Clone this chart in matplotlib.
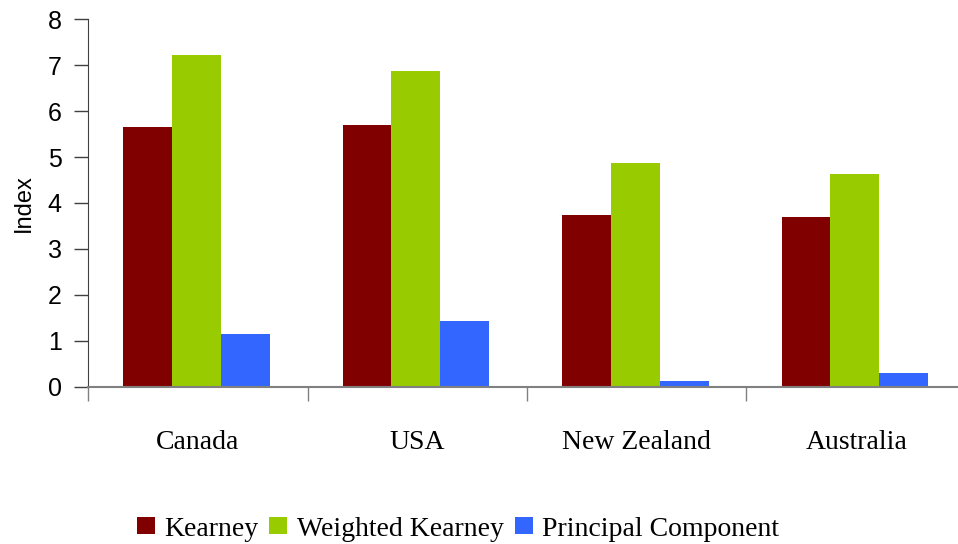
import matplotlib
matplotlib.use("Agg")
import matplotlib.pyplot as plt
import numpy as np
from matplotlib.patches import Patch

categories = ["Canada", "USA", "New Zealand", "Australia"]
series_names = ["Kearney", "Weighted Kearney", "Principal Component"]
kearney = [5.66, 5.70, 3.74, 3.70]
weighted_kearney = [7.22, 6.88, 4.88, 4.63]
principal_component = [1.15, 1.43, 0.12, 0.30]
colors = ["#800000", "#99CC00", "#3366FF"]
yticks = [0, 1, 2, 3, 4, 5, 6, 7, 8]

fig = plt.figure(figsize=(9.58, 5.44), dpi=100)
W, H = 958, 544
left_px, right_px = 88, 966
top_px, bot_px = 19.3, 386.7
ax = fig.add_axes([left_px / W, 1 - bot_px / H, (right_px - left_px) / W, (bot_px - top_px) / H])

x = np.arange(len(categories))
bw = 0.223
series = [kearney, weighted_kearney, principal_component]
for i, (vals, c, name) in enumerate(zip(series, colors, series_names)):
    ax.bar(x + (i - 1) * bw - 0.006, vals, width=bw, color=c, label=name, linewidth=0)

ax.set_xlim(-0.5, len(categories) - 0.5)
ax.set_ylim(0, 8)
ax.set_yticks(yticks)
ax.set_yticklabels([str(t) for t in yticks], fontsize=18, family="Liberation Sans")
ax.set_ylabel("Index", fontsize=17, family="Liberation Sans", labelpad=9)

ax.set_xticks(x)
ax.set_xticklabels(categories, fontsize=20, family="Liberation Serif")
ax.set_xticks(np.arange(-0.5, len(categories), 1.0), minor=True)
ax.tick_params(axis="x", which="major", length=0, pad=31)
ax.tick_params(axis="x", which="minor", length=10, width=1, color="#808080", direction="out")
ax.tick_params(axis="y", which="major", length=10, width=1, color="#404040", direction="out", pad=9)

for s in ["top", "right"]:
    ax.spines[s].set_visible(False)
ax.spines["left"].set_color("#404040")
ax.spines["bottom"].set_color("#808080")
ax.spines["bottom"].set_linewidth(1.5)

handles = [Patch(facecolor=c, edgecolor="none") for c in colors]
fig.legend(handles, series_names, loc="center", bbox_to_anchor=(458 / W, 1 - 529 / H),
           ncol=3, frameon=False, prop={"family": "Liberation Serif", "size": 20},
           handlelength=0.65, handleheight=0.54, handletextpad=0.34, columnspacing=0.4)

fig.savefig("out.png", dpi=100)
